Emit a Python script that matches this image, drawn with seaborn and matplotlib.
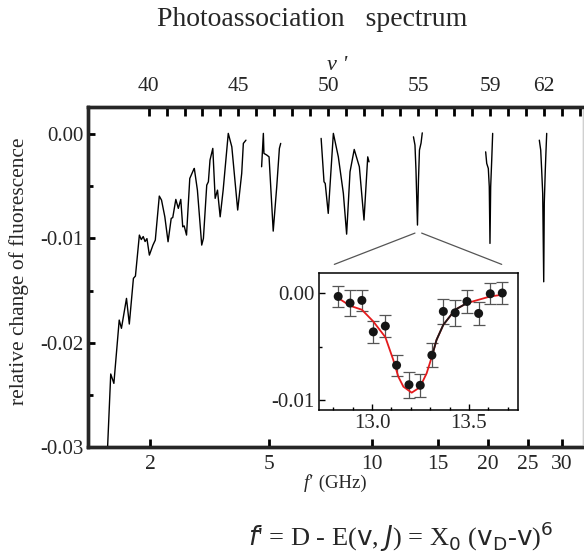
import numpy as np
import pandas as pd
import matplotlib
matplotlib.use("Agg")
import matplotlib.pyplot as plt
import seaborn as sns

# ---------------- data ----------------
# main spectrum: frequency f' (GHz) and relative change of fluorescence (x1e-3), scan segments
seg_a_f = [1.39, 1.43, 1.47, 1.54, 1.57, 1.64, 1.68, 1.74, 1.77, 1.83, 1.86, 1.89, 1.92, 1.95,
           1.99, 2.05, 2.09, 2.16, 2.20, 2.26, 2.32, 2.38, 2.41, 2.47, 2.52, 2.57, 2.61, 2.64,
           2.69, 2.76, 2.84, 2.86, 2.93, 3.03, 3.07, 3.15, 3.19, 3.23, 3.30, 3.36, 3.42, 3.49,
           3.57, 3.71, 3.81, 3.98, 4.10, 4.15, 4.23]
seg_a_y = [-30.2, -23.0, -23.9, -17.83, -18.62, -15.75, -18.21, -13.83, -13.61, -9.68, -10.11,
           -9.82, -10.30, -10.02, -11.60, -10.64, -10.16, -5.94, -6.33, -7.93, -10.32, -8.08,
           -8.0, -6.26, -7.12, -6.26, -8.89, -8.8, -9.68, -4.25, -3.45, -3.29, -5.37, -10.64,
           -10.0, -4.89, -4.57, -2.49, -1.37, -6.16, -5.37, -7.93, -5.37, 0.07, -1.22, -7.28,
           -3.77, -0.89, -0.58]
seg_b_f = [4.74, 4.80, 4.82, 4.92, 5.00, 5.15, 5.28, 5.38, 5.43]
seg_b_y = [-3.13, 0.07, -1.85, -2.01, -2.18, -9.30, -5.05, -1.37, -0.89]
seg_c_f = [7.17, 7.31, 7.37, 7.52, 7.78, 8.04, 8.31, 8.49, 8.68, 8.92, 9.22, 9.50, 9.73, 9.81]
seg_c_y = [-0.41, -4.57, -4.73, -7.60, 0.07, -2.18, -5.68, -9.59, -3.61, -1.47, -3.13, -8.24,
           -2.18, -2.66]
seg_d_f = [12.94, 13.06, 13.14, 13.26, 13.34, 13.42, 13.55, 13.65]
seg_d_y = [-0.26, -1.05, -3.45, -8.72, -4.41, -1.53, -0.86, 0.12]
seg_e_f = [19.78, 19.90, 20.08, 20.19, 20.27, 20.35, 20.47, 20.58]
seg_e_y = [-1.70, -2.81, -3.29, -5.05, -10.48, -5.05, -2.49, 0.07]
seg_f_f = [26.62, 26.82, 26.96, 27.11, 27.26, 27.34, 27.49, 27.59, 27.70]
seg_f_y = [-0.58, -1.53, -3.45, -5.68, -14.16, -6.64, -3.45, -1.70, 0.07]

# inset: measured points near v'=55 with error bars, and fitted profile
inset_f = [12.826, 12.887, 12.948, 13.007, 13.069, 13.127, 13.191, 13.249, 13.309, 13.368,
           13.429, 13.490, 13.550, 13.610, 13.672]
inset_y = [-0.00032, -0.00094, -0.00069, -0.00363, -0.00309, -0.00675, -0.00857, -0.00862,
           -0.00581, -0.00172, -0.00185, -0.00079, -0.00191, -0.00007, 0.0]
inset_err = [0.0010, 0.0012, 0.0010, 0.0010, 0.0010, 0.0010, 0.0012, 0.0011, 0.0011, 0.0012,
             0.0012, 0.0011, 0.0011, 0.0010, 0.0010]
fit_f = [12.826, 12.887, 12.948, 13.007, 13.069, 13.110, 13.136, 13.162, 13.205, 13.247,
         13.282, 13.309, 13.333, 13.368, 13.429, 13.490, 13.550, 13.610, 13.672]
fit_y = [-0.00047, -0.00119, -0.00156, -0.00266, -0.00412, -0.00625, -0.00782, -0.00875,
         -0.00931, -0.00881, -0.0075, -0.00594, -0.00438, -0.00297, -0.00156, -0.00094,
         -0.00063, -0.00032, -0.00016]
fit_black_range = (13.309, 13.490)   # part of the fitted curve drawn in black

# axes ticks / labels
bottom_ticks = [2, 5, 10, 15, 20, 25, 30]
bottom_labels = ["2", "5", "10", "15", "20", "25", "30"]
left_ticks = [0.0, -0.01, -0.02, -0.03]
left_labels = ["0.00", "-0.01", "-0.02", "-0.03"]
top_ticks = list(range(40, 65))
top_labeled = [40, 45, 50, 55, 59, 62]
inset_xticks = [13.0, 13.5]
inset_xlabels = ["13.0", "13.5"]
inset_yticks = [0.0, -0.01]
inset_ylabels = ["0.00", "-0.01"]

# ---------------- style ----------------
sns.set_theme(style="white")
plt.rcParams["font.family"] = ["Liberation Serif", "DejaVu Serif"]
plt.rcParams["mathtext.fontset"] = "dejavusans"

fig = plt.figure(figsize=(5.84, 5.55), dpi=100)
fig.patch.set_facecolor("white")
W, H = 584.0, 555.0
ax = fig.add_axes([88 / W, 108 / H, 495 / W, 340 / H])
ax.set_facecolor("white")

segs = []
for name, fx, fy in [("a", seg_a_f, seg_a_y), ("b", seg_b_f, seg_b_y), ("c", seg_c_f, seg_c_y),
                     ("d", seg_d_f, seg_d_y), ("e", seg_e_f, seg_e_y), ("f", seg_f_f, seg_f_y)]:
    segs.append(pd.DataFrame({"f": fx, "rel": np.array(fy) / 1000.0, "seg": name}))
df = pd.concat(segs, ignore_index=True)
sns.lineplot(data=df, x="f", y="rel", units="seg", estimator=None, sort=False,
             color="black", lw=1.0, ax=ax, legend=False)


def fwd(x):
    x = np.asarray(x, dtype=float)
    return np.sign(x) * np.abs(x) ** (1.0 / 6.0)


def inv(u):
    u = np.asarray(u, dtype=float)
    return np.sign(u) * np.abs(u) ** 6


ax.set_xscale("function", functions=(fwd, inv))
ax.set_xlim(1.167, 33.55)
ax.set_ylim(-0.030, 0.0026)

ax.set_xticks(bottom_ticks)
ax.set_xticklabels(bottom_labels)
ax.xaxis.set_minor_locator(matplotlib.ticker.NullLocator())
ax.set_yticks(left_ticks)
ax.set_yticklabels(left_labels)
ax.set_yticks([-0.005, -0.015, -0.025], minor=True)
ax.tick_params(axis="x", which="major", direction="in", length=6, width=2.0,
               labelsize=15.5, pad=6, bottom=True, top=False, color="black")
ax.tick_params(axis="y", which="major", direction="in", length=5, width=2.0,
               labelsize=15, pad=3, left=True, right=False, color="black")
ax.tick_params(axis="y", which="minor", direction="in", length=3.5, width=2.0,
               left=True, right=False, color="black")
ax.set_xlabel("")
ax.set_ylabel("relative change of fluorescence", fontsize=15.4)
ax.yaxis.set_label_coords(-0.119, 0.516)
for s in ["left", "bottom", "top"]:
    ax.spines[s].set_linewidth(2.4)
    ax.spines[s].set_color("black")
ax.spines["right"].set_color("#d0d0d0")
ax.spines["right"].set_linewidth(1.0)

# zoom connector lines
ax.plot([7.83, 13.06], [-0.01249, -0.00949], color="#555555", lw=0.9)
ax.plot([13.60, 21.65], [-0.00949, -0.01249], color="#555555", lw=0.9)

# top axis v'
ax2 = ax.twiny()
ax2.set_xlim(36.63, 64.17)
ax2.set_xticks(top_ticks)
ax2.set_xticklabels([str(t) if t in top_labeled else "" for t in top_ticks])
ax2.tick_params(axis="x", which="major", direction="in", length=6.5, width=2.0,
                labelsize=15.5, pad=8, top=True, bottom=False, color="black")
for s in ["left", "bottom", "top"]:
    ax2.spines[s].set_linewidth(2.4)
ax2.spines["right"].set_color("#d0d0d0")
ax2.spines["right"].set_linewidth(1.0)
ax2.set_xlabel("")

# ---------------- inset ----------------
axi = fig.add_axes([319 / W, (H - 410) / H, 199 / W, 137 / H])
axi.set_facecolor("white")
axi.errorbar(inset_f, inset_y, yerr=inset_err, fmt="none", ecolor="#555555",
             elinewidth=0.9, capsize=4.5, capthick=0.9, zorder=2)
sns.lineplot(x=fit_f, y=fit_y, color="#e41a1c", lw=1.3, ax=axi, sort=False, zorder=3)
blk = [(a, b) for a, b in zip(fit_f, fit_y) if fit_black_range[0] <= a <= fit_black_range[1]]
sns.lineplot(x=[p[0] for p in blk], y=[p[1] for p in blk], color="#1a1a1a", lw=1.3,
             ax=axi, sort=False, zorder=3)
sns.scatterplot(x=inset_f, y=inset_y, color="#151515", s=42, edgecolor="none",
                ax=axi, zorder=4, legend=False)
axi.set_xlim(12.727, 13.753)
axi.set_ylim(-0.01093, 0.00187)
axi.set_xticks(inset_xticks)
axi.set_xticklabels(inset_xlabels)
axi.set_xticks([12.8, 12.9, 13.1, 13.2, 13.3, 13.4, 13.6, 13.7], minor=True)
axi.set_yticks(inset_yticks)
axi.set_yticklabels(inset_ylabels)
axi.set_yticks([-0.005], minor=True)
axi.tick_params(axis="both", which="major", direction="in", length=4, width=1.0,
                labelsize=15, pad=3, color="black")
axi.tick_params(axis="both", which="minor", direction="in", length=2.5, width=1.0,
                color="black")
axi.tick_params(axis="x", bottom=True, top=False)
axi.tick_params(axis="y", left=True, right=False)
axi.tick_params(axis="x", which="minor", bottom=True, top=False)
axi.tick_params(axis="y", which="minor", left=True, right=False)
for s in axi.spines.values():
    s.set_linewidth(1.1)
    s.set_color("black")

# ---------------- texts ----------------
fig.text(312 / W, 1 - 20 / H, "Photoassociation   spectrum", ha="center", va="center",
         fontsize=20)
fig.text(337 / W, 1 - 66 / H, "v '", ha="center", va="center", fontsize=16, style="italic")
fig.text(313 / W, 1 - 483 / H, "f'", ha="right", va="center", fontsize=13.5, style="italic")
fig.text(314 / W, 1 - 483 / H, " (GHz)", ha="left", va="center", fontsize=13.5)
fig.text(401 / W, 1 - 537 / H,
         r"$f$' = D - E($\mathrm{v}$, $J$) = X$_\mathrm{0}$ ($\mathrm{v}_\mathrm{D}$-$\mathrm{v}$)$^\mathrm{6}$",
         ha="center", va="center", fontsize=19)

fig.savefig("out.png", dpi=100, facecolor="white")
